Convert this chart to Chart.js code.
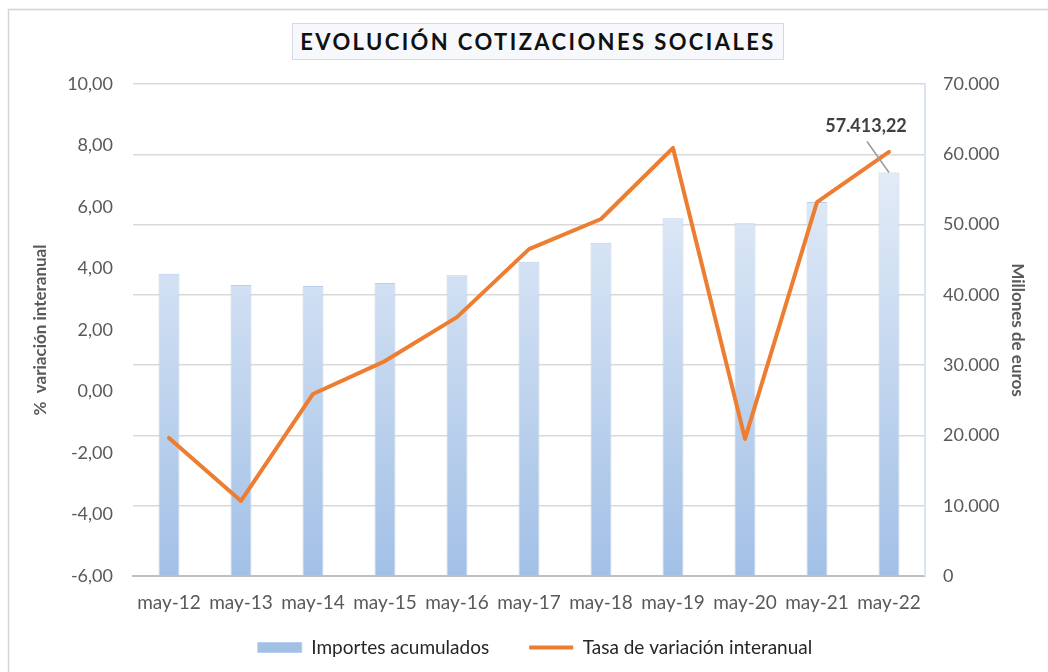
<!DOCTYPE html>
<html>
<head>
<meta charset="utf-8">
<script src="https://cdn.jsdelivr.net/npm/chart.js@4/dist/chart.umd.min.js"></script>
<style>
  html, body { margin: 0; padding: 0; background: #ffffff; }
  #wrap { position: relative; width: 1048px; height: 672px; overflow: hidden; }
  #c { position: absolute; left: 0; top: 0; }
  #title {
    position: absolute; left: 292px; top: 23px; width: 492px; height: 37px;
    box-sizing: border-box; border: 1px solid #d3d9e6; background: #f6f8fc;
    font-family: Lato, "Open Sans", sans-serif; font-weight: bold; font-size: 22px;
    letter-spacing: 2.4px; color: #111; text-align: center; line-height: 35px;
    white-space: nowrap;
  }
</style>
</head>
<body>
<div id="wrap">
  <canvas id="c" width="1048" height="672"></canvas>
  <div id="title">EVOLUCIÓN COTIZACIONES SOCIALES</div>
</div>
<script>
// ---- data ----
const categories = ['may-12','may-13','may-14','may-15','may-16','may-17','may-18','may-19','may-20','may-21','may-22'];
const importesAcumulados = [43000, 41400, 41250, 41700, 42800, 44700, 47400, 50900, 50200, 53200, 57413.22];
const tasaVariacion = [-1.51, -3.56, -0.08, 0.99, 2.42, 4.63, 5.61, 7.92, -1.54, 6.16, 7.79];
const leftTicks = [-6, -4, -2, 0, 2, 4, 6, 8, 10];
const rightTicks = [0, 10000, 20000, 30000, 40000, 50000, 60000, 70000];

function fmtES(v, dec) {
  const parts = Math.abs(v).toFixed(dec).split('.');
  const int = parts[0].replace(/\B(?=(\d{3})+(?!\d))/g, '.');
  return (v < 0 ? '-' : '') + int + (dec > 0 ? ',' + parts[1] : '');
}

const FONT = 'Lato, "Open Sans", sans-serif';

function barGradient(ctx) {
  const chart = ctx.chart;
  const area = chart.chartArea;
  if (!area) return '#b3cbea';
  const g = chart.ctx.createLinearGradient(0, area.top + 90, 0, area.bottom);
  g.addColorStop(0, '#e2ebf7');
  g.addColorStop(1, '#a2c0e6');
  return g;
}

const frame = {
  id: 'frame',
  beforeDraw(chart) {
    const c = chart.ctx;
    c.save();
    c.strokeStyle = '#d4d4d4';
    c.lineWidth = 1.5;
    c.strokeRect(8.5, 9.5, 1100, 700);
    c.restore();
  }
};

// keep the legend's wide item spacing while placing it just below the axis labels
const legendPlace = {
  id: 'legendPlace',
  afterLayout(chart) {
    const L = chart.legend;
    if (!L) return;
    L.top = 598;
    L.bottom = 672;
    L.left = 22;
  }
};

const lastLabel = {
  id: 'lastLabel',
  afterDatasetsDraw(chart) {
    const meta = chart.getDatasetMeta(1);
    const i = importesAcumulados.length - 1;
    const el = meta.data[i];
    if (!el) return;
    const c = chart.ctx;
    c.save();
    c.strokeStyle = '#9a9a9a';
    c.lineWidth = 1.5;
    c.beginPath();
    c.moveTo(el.x, el.y);
    c.lineTo(el.x - 22, el.y - 31);
    c.stroke();
    c.fillStyle = '#404040';
    c.font = 'bold 18px ' + FONT;
    c.textAlign = 'center';
    c.textBaseline = 'middle';
    c.fillText(fmtES(importesAcumulados[i], 2), el.x - 23, el.y - 46);
    c.restore();
  }
};

new Chart(document.getElementById('c'), {
  data: {
    labels: categories,
    datasets: [
      {
        type: 'line',
        label: 'Tasa de variación interanual',
        data: tasaVariacion,
        yAxisID: 'y',
        borderColor: '#ed7d31',
        backgroundColor: '#ed7d31',
        borderWidth: 4,
        pointRadius: 0,
        pointStyle: 'line',
        tension: 0,
        borderJoinStyle: 'round',
        borderCapStyle: 'round'
      },
      {
        type: 'bar',
        label: 'Importes acumulados',
        data: importesAcumulados,
        yAxisID: 'y1',
        backgroundColor: barGradient,
        borderColor: '#b9cfeb',
        borderWidth: 1,
        pointStyle: 'rect',
        barPercentage: 0.29,
        categoryPercentage: 1
      }
    ]
  },
  options: {
    responsive: false,
    devicePixelRatio: 1,
    animation: false,
    layout: { padding: { top: 84, left: 0, right: 0, bottom: 0 } },
    plugins: {
      title: { display: false },
      tooltip: { enabled: false },
      legend: {
        position: 'bottom',
        maxHeight: 50,
        labels: {
          usePointStyle: true,
          pointStyleWidth: 44,
          boxHeight: 10,
          padding: 40,
          color: '#262626',
          font: { family: FONT, size: 19 },
          sort: (a, b) => b.datasetIndex - a.datasetIndex
        }
      }
    },
    scales: {
      x: {
        grid: { display: false },
        border: { color: '#bfbfbf', width: 2 },
        ticks: { color: '#595959', font: { family: FONT, size: 19 }, padding: 7, maxRotation: 0 },
        afterFit(s) { s.height = 46; }
      },
      y: {
        position: 'left',
        min: -6, max: 10,
        grid: { display: false, drawTicks: false },
        border: { display: false },
        afterBuildTicks(s) { s.ticks = leftTicks.map(v => ({ value: v })); },
        ticks: {
          color: '#595959', font: { family: FONT, size: 18 }, padding: 20,
          callback: v => fmtES(v, 2)
        },
        title: {
          display: true, text: '%  variación interanual', color: '#595959',
          font: { family: FONT, size: 17, weight: 'bold' }, padding: { top: 30, bottom: 0 }
        },
        afterFit(s) { s.width = 133; }
      },
      y1: {
        position: 'right',
        min: 0, max: 70000,
        grid: { color: '#d9d9d9', lineWidth: 1.5, drawTicks: false },
        border: { display: true, color: '#dbe5f1', width: 2 },
        afterBuildTicks(s) { s.ticks = rightTicks.map(v => ({ value: v })); },
        ticks: {
          color: '#595959', font: { family: FONT, size: 18 }, padding: 18,
          callback: v => fmtES(v, 0)
        },
        title: {
          display: true, text: 'Millones de euros', color: '#595959',
          font: { family: FONT, size: 17, weight: 'bold' }, padding: { top: 20, bottom: 0 }
        },
        afterFit(s) { s.width = 123; }
      }
    }
  },
  plugins: [frame, legendPlace, lastLabel]
});
</script>
</body>
</html>
